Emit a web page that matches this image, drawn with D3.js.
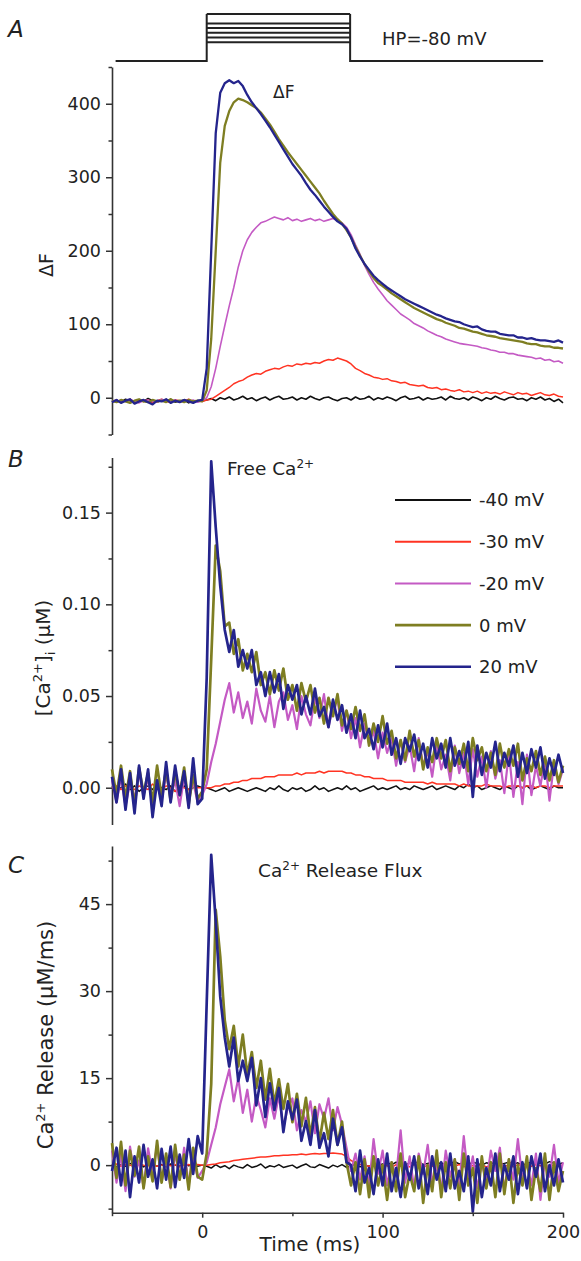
<!DOCTYPE html>
<html><head><meta charset="utf-8">
<script src="https://cdn.jsdelivr.net/npm/d3@7"></script>
<style>
body{margin:0;background:#fff}
svg{display:block}
text{font-family:"DejaVu Sans",Arial,sans-serif;fill:#222}
</style>
</head><body>
<svg id="chart" width="581" height="1261"></svg>
<script>
// ---------- data ----------
const time = [-50,-47.5,-45,-42.5,-40,-37.5,-35,-32.5,-30,-27.5,-25,-22.5,-20,-17.5,-15,-12.5,-10,-7.5,-5,-2.5,
0,2.5,5,7.5,10,12.5,15,17.5,20,22.5,25,27.5,30,32.5,35,37.5,40,42.5,45,47.5,
50,52.5,55,57.5,60,62.5,65,67.5,70,72.5,75,77.5,80,82.5,85,87.5,90,92.5,95,97.5,
100,102.5,105,107.5,110,112.5,115,117.5,120,122.5,125,127.5,130,132.5,135,137.5,140,142.5,145,147.5,
150,152.5,155,157.5,160,162.5,165,167.5,170,172.5,175,177.5,180,182.5,185,187.5,190,192.5,195,197.5,200];

const seriesLabels = ["-40 mV","-30 mV","-20 mV","0 mV","20 mV"];

// Panel A: ΔF
const dF_m40 = [-5,-3,-6,-2,-4,-7,-3,-5,-1,-4,-6,-3,-5,-2,-6,-4,-3,-7,-4,-5,
-4,
-3,-1,-4,0,-2,1,-3,-1,2,-2,
0,-4,-1,1,-3,0,2,-2,-1,1,
-3,0,-2,2,-1,-3,0,1,-2,-4,
-1,0,-3,1,-2,-1,2,-3,0,-2,
1,-1,-4,0,2,-2,-1,1,-3,0,
-2,-1,1,-3,2,-1,-2,0,-3,1,
-1,-4,0,-2,2,-1,-3,0,1,-2,
-1,-4,0,-2,1,-3,-1,-5,-2,-7];
const dF_m30 = [-4,-6,-3,-5,-2,-6,-4,-5,-3,-7,-4,-2,-5,-6,-3,-4,-5,-2,-6,-4,
-5,
-3,-2,2,6,10,14,19,22,24,28,
31,33,32,36,38,40,39,42,44,43,
46,45,47,46,48,47,50,52,51,54,
52,50,46,40,37,33,31,28,27,25,
26,23,22,20,21,18,17,16,17,14,
13,14,11,12,10,9,11,8,9,7,
9,6,8,6,7,5,8,6,4,7,
5,6,3,5,7,4,3,5,2,1];
const dF_m20 = [-5,-3,-6,-4,-2,-5,-7,-4,-3,-5,-6,-2,-4,-5,-3,-6,-4,-5,-3,-6,
-4,
0,15,40,70,98,125,150,178,200,215,
225,232,238,240,243,246,244,242,245,241,
243,240,242,244,241,243,240,242,244,241,
238,232,222,208,195,180,168,157,148,140,
132,126,120,114,110,106,101,98,95,91,
88,85,83,80,78,76,74,73,72,71,
70,68,67,65,64,62,62,60,60,58,
57,56,55,53,54,51,52,49,50,47];
const dF_0 = [-4,-6,-3,-5,-7,-4,-2,-5,-6,-3,-5,-4,-6,-2,-5,-4,-6,-3,-5,-4,
-5,
10,80,200,320,370,390,402,407,405,402,
398,394,388,380,372,362,352,343,334,326,
318,310,302,294,286,278,268,259,250,243,
237,228,218,205,193,182,172,163,156,152,
147,142,138,134,130,126,122,119,116,113,
110,107,105,102,100,98,95,94,92,90,
89,87,85,84,83,81,80,79,78,77,
76,74,73,73,71,70,70,68,68,67];
const dF_20 = [-6,-3,-7,-4,-2,-8,-5,-3,-6,-9,-4,-5,-2,-7,-4,-6,-3,-5,-7,-4,
-3,
40,200,360,415,428,432,428,431,424,412,
402,394,386,377,368,358,348,338,328,318,
310,302,292,283,276,268,260,253,246,240,
236,230,218,203,192,182,174,166,160,155,
150,146,142,138,134,131,128,125,122,119,
116,113,111,108,106,104,103,100,98,96,
97,93,91,90,90,87,86,85,85,82,
82,80,81,79,78,78,77,76,78,75];

// Panel B: free [Ca2+]i (µM)
const ca_m40 = [0.001,-0.001,0.000,0.002,-0.001,0.001,-0.002,0.000,0.001,-0.001,0.002,0.000,-0.001,0.001,-0.002,0.000,0.001,-0.001,0.000,0.001,
0.000,
0.000,-0.001,-0.002,-0.001,0.000,-0.002,-0.001,0.000,-0.001,-0.002,
-0.001,0.000,-0.001,-0.002,0.000,-0.001,0.001,-0.001,-0.002,0.000,
-0.001,0.000,-0.002,-0.001,0.001,-0.001,0.000,-0.002,-0.001,0.000,
-0.001,0.001,-0.001,0.000,-0.002,-0.001,0.000,0.001,-0.001,0.000,
-0.001,0.000,0.001,-0.001,0.000,-0.001,0.001,0.000,-0.001,0.000,
0.001,-0.001,0.000,0.001,0.000,-0.001,0.001,0.000,0.002,0.000,
0.001,-0.001,0.000,0.001,0.000,-0.001,0.001,0.000,-0.001,0.001,
0.000,0.001,-0.001,0.000,0.001,0.000,-0.001,0.001,0.000,0.000];
const ca_m30 = [0.000,0.001,-0.001,0.001,0.000,-0.001,0.001,0.000,-0.001,0.002,0.000,-0.001,0.001,0.000,-0.002,0.001,0.000,-0.001,0.001,0.000,
0.000,
0.000,0.000,0.001,0.001,0.002,0.002,0.003,0.003,0.004,0.004,
0.005,0.005,0.005,0.006,0.006,0.006,0.007,0.007,0.007,0.007,
0.008,0.007,0.008,0.008,0.008,0.009,0.008,0.009,0.009,0.009,
0.009,0.008,0.008,0.007,0.007,0.006,0.006,0.005,0.005,0.005,
0.004,0.004,0.004,0.004,0.003,0.003,0.003,0.003,0.003,0.002,
0.003,0.002,0.002,0.002,0.002,0.002,0.001,0.002,0.001,0.001,
0.001,0.001,0.002,0.001,0.001,0.001,0.000,0.001,0.001,0.001,
0.000,0.001,0.001,0.000,0.001,0.001,0.000,0.001,0.001,0.001];
const ca_m20 = [0.004,-0.008,0.006,-0.010,0.003,-0.006,0.008,-0.004,0.005,-0.009,0.002,-0.007,0.007,-0.005,0.004,-0.010,0.006,-0.006,0.003,-0.008,
-0.004,
0.002,0.014,0.024,0.036,0.048,0.057,0.041,0.052,0.038,0.047,
0.035,0.054,0.042,0.036,0.050,0.033,0.047,0.052,0.037,0.045,
0.032,0.050,0.040,0.034,0.049,0.038,0.051,0.033,0.044,0.048,
0.031,0.042,0.027,0.038,0.022,0.035,0.024,0.031,0.016,0.030,
0.019,0.027,0.012,0.026,0.014,0.023,0.009,0.027,0.012,0.020,
0.006,0.024,0.010,0.018,0.004,0.023,0.008,0.019,0.002,0.021,
0.006,0.017,0.000,0.020,0.005,0.015,-0.003,0.019,-0.005,0.014,
-0.009,0.018,-0.004,0.012,0.001,0.016,-0.007,0.013,0.002,0.010];
const ca_0 = [0.010,-0.004,0.012,-0.006,0.009,-0.010,0.011,-0.003,0.008,-0.008,0.012,-0.005,0.010,-0.007,0.009,-0.004,0.011,-0.009,0.007,-0.006,
-0.002,
0.010,0.070,0.132,0.118,0.088,0.090,0.073,0.081,0.064,0.073,
0.063,0.074,0.056,0.063,0.051,0.064,0.053,0.065,0.048,0.056,
0.042,0.057,0.047,0.056,0.041,0.049,0.035,0.049,0.039,0.051,
0.034,0.042,0.032,0.044,0.031,0.040,0.023,0.035,0.025,0.039,
0.024,0.031,0.016,0.026,0.015,0.031,0.017,0.026,0.010,0.022,
0.014,0.027,0.016,0.026,0.009,0.022,0.013,0.024,0.009,0.027,
0.015,0.022,0.009,0.019,0.007,0.024,0.011,0.021,0.012,0.024,
0.004,0.016,0.009,0.020,0.007,0.017,0.004,0.015,0.003,0.012];
const ca_20 = [0.006,-0.008,0.010,-0.012,0.008,-0.014,0.012,-0.006,0.010,-0.016,0.004,-0.010,0.014,-0.008,0.012,-0.004,0.009,-0.011,0.016,-0.009,
-0.006,
0.060,0.178,0.142,0.110,0.086,0.074,0.086,0.066,0.075,0.065,
0.075,0.056,0.063,0.050,0.063,0.052,0.062,0.043,0.056,0.048,
0.056,0.040,0.050,0.040,0.054,0.039,0.044,0.033,0.048,0.037,
0.045,0.030,0.040,0.027,0.042,0.027,0.032,0.021,0.034,0.022,
0.035,0.018,0.027,0.013,0.027,0.020,0.029,0.015,0.024,0.011,
0.027,0.016,0.024,0.011,0.027,0.012,0.020,0.011,0.025,-0.005,
0.023,0.007,0.019,0.011,0.025,0.009,0.019,0.012,0.023,0.006,
0.019,0.008,0.021,0.011,0.022,0.005,0.016,0.007,0.018,0.008];

// Panel C: Ca2+ release flux (µM/ms)
const rel_m40 = [0.2,-0.3,0.1,-0.2,0.3,-0.1,0.2,-0.3,0.0,0.2,-0.2,0.1,-0.3,0.2,0.0,-0.2,0.3,-0.1,0.1,-0.2,
0.0,
-0.2,-0.5,0.1,-0.4,-0.1,-0.6,0.0,-0.3,-0.5,0.1,
-0.4,-0.2,0.2,-0.5,-0.1,-0.3,0.1,-0.4,-0.2,0.0,
-0.5,-0.1,0.2,-0.3,-0.4,0.1,-0.2,-0.5,0.0,-0.3,
0.1,-0.4,-0.1,0.2,-0.3,0.0,-0.2,0.3,0.0,0.2,
0.4,0.1,0.5,0.2,0.0,0.4,0.3,0.6,0.1,0.3,
0.5,0.2,0.4,0.0,0.3,0.6,0.2,0.4,0.1,0.5,
0.3,0.0,0.4,0.2,0.6,0.1,0.3,0.5,0.2,0.4,
0.0,0.3,0.5,0.1,0.4,0.2,0.6,0.3,0.1,0.4];
const rel_m30 = [-0.1,0.2,-0.2,0.1,0.0,-0.3,0.2,0.0,-0.1,0.1,-0.2,0.0,0.2,-0.1,0.1,-0.3,0.0,0.1,-0.2,0.1,
0.0,
0.0,0.1,0.2,0.4,0.5,0.6,0.8,0.9,1.0,1.1,
1.2,1.3,1.4,1.4,1.5,1.6,1.6,1.7,1.7,1.8,
1.8,1.9,1.8,1.9,2.0,1.9,2.0,2.0,2.1,2.0,
1.9,1.5,0.8,0.3,0.1,0.0,-0.2,0.1,-0.3,0.0,
-0.1,-0.4,0.1,-0.2,0.0,-0.3,0.1,-0.1,-0.4,0.0,
-0.2,0.1,-0.3,-0.1,0.0,-0.2,0.1,-0.3,0.0,-0.1,
-0.2,0.1,-0.3,0.0,-0.1,0.1,-0.2,0.0,-0.3,0.1,
-0.1,0.0,-0.2,0.1,-0.1,0.0,-0.3,0.1,-0.1,0.0];
const rel_m20 = [2.5,-3.0,1.8,-4.5,3.2,-2.0,0.8,-3.8,2.9,-1.5,3.5,-2.8,1.2,-4.0,2.2,-2.5,3.0,-3.5,1.5,-2.2,
-1.0,
0.5,3.5,6.5,10.5,13.5,16.5,11.0,15.0,9.0,13.0,
7.5,12.0,9.5,6.5,11.5,8.0,12.0,6.5,10.0,11.5,
6.0,9.5,7.5,11.0,5.5,10.5,8.0,11.5,6.0,10.0,
7.0,3.0,-1.0,2.0,-2.5,1.5,-3.5,4.5,-1.5,2.5,
-3.5,0.5,-2.0,6.0,-3.0,1.5,-4.0,2.0,-1.5,3.5,
-3.0,0.0,-4.5,2.5,-2.0,1.0,-3.5,5.0,-2.5,1.5,
-4.0,0.5,-3.0,2.5,-1.0,3.0,-4.5,1.0,-2.5,4.5,
-2.5,0.5,-3.5,2.0,-6.0,1.0,-2.0,3.5,-3.0,0.5];
const rel_0 = [3.8,-2.2,4.0,-3.5,2.5,-1.8,3.2,-4.0,1.5,-2.8,4.2,-3.0,2.0,-3.8,3.5,-2.5,1.8,-4.2,3.0,-2.0,
-2.5,
2.0,14.0,44.0,36.0,25.0,20.0,24.0,17.0,22.5,15.5,
19.5,13.3,18.0,11.3,16.6,10.5,14.8,9.7,14.0,7.4,
12.3,6.7,11.6,5.0,10.0,4.0,9.0,4.5,9.5,3.5,
7.5,0.5,-3.5,0.5,-5.0,1.0,-5.5,1.5,-3.5,0.0,
-6.0,0.5,-4.5,2.0,-5.5,-1.5,-4.5,1.5,-6.5,0.0,
-4.5,2.5,-5.5,0.5,-4.0,1.0,-6.0,2.0,-3.5,-0.5,
-6.5,1.5,-4.0,0.5,-5.5,2.0,-5.0,1.0,-6.5,0.0,
-3.5,1.5,-6.0,-0.5,-4.5,2.0,-6.0,0.5,-4.5,-1.0];
const rel_20 = [-1.0,3.0,-3.5,2.5,-5.5,1.5,-3.0,3.5,-2.0,1.0,-4.0,2.8,-2.5,3.2,-3.8,1.8,-2.2,4.5,-1.5,5.0,
2.0,
28.0,53.5,42.0,29.0,22.0,17.0,22.0,14.5,18.0,14.5,
18.5,10.3,15.0,8.3,14.1,9.5,13.3,5.7,11.0,7.9,
11.3,4.2,7.6,3.5,9.5,3.0,5.5,1.5,8.0,3.5,
6.5,0.5,0.0,-4.5,2.5,-3.0,-0.5,-5.0,1.0,-3.5,
2.0,-4.5,-0.5,-5.5,0.5,-2.5,1.5,-4.0,0.0,-5.0,
1.5,-2.5,0.5,-4.5,2.0,-4.0,-1.0,-4.5,1.5,-8.0,
1.0,-5.5,-0.5,-3.5,2.0,-4.5,0.0,-2.5,1.5,-5.0,
0.5,-4.0,1.5,-2.0,2.0,-4.5,0.0,-3.5,1.0,-3.0];

// tick values
const ticksA = [0,100,200,300,400], minorA = [-50,50,150,250,350,450];
const ticksB = [0,0.05,0.10,0.15], minorB = [0.025,0.075,0.125,0.175];
const ticksC = [0,15,30,45], minorC = [-7.5,7.5,22.5,37.5,52.5];
const ticksX = [0,100,200], minorX = [-50,50,150];

// voltage protocol
const holdingPotential = -80;
const stepLevels = [-40,-30,-20,-10,0,20];
const protoStart = -48, pulseOn = 2.5, pulseOff = 82, protoEnd = 189;

// ---------- drawing ----------
const colors = ["#111111","#ff3322","#c45ac4","#7e7e22","#24248c"];
const svg = d3.select("#chart");
const x = d3.scaleLinear().domain([-50,200]).range([112,563]);

const panels = [
  {y:d3.scaleLinear().domain([-50,450]).range([434.5,67]), data:[dF_m40,dF_m30,dF_m20,dF_0,dF_20],
   major:ticksA, minor:minorA, fmt:d3.format("d"), widths:[1.6,1.5,1.6,2.3,2.3]},
  {y:d3.scaleLinear().domain([-0.02,0.18]).range([824.4,457.6]), data:[ca_m40,ca_m30,ca_m20,ca_0,ca_20],
   major:ticksB, minor:minorB, fmt:d3.format(".2f"), widths:[1.5,1.5,2.2,2.7,2.7]},
  {y:d3.scaleLinear().domain([-8.2,55]).range([1212.7,846.1]), data:[rel_m40,rel_m30,rel_m20,rel_0,rel_20],
   major:ticksC, minor:minorC, fmt:d3.format("d"), widths:[1.5,1.5,2.2,2.7,2.7]}
];

function styleAxis(g){
  g.select(".domain").attr("stroke","#333").attr("stroke-width",1.6);
  g.selectAll(".tick line").attr("stroke","#333").attr("stroke-width",1.5);
  g.selectAll(".tick text").attr("fill","#222").style("font-size","17.5px").style("font-family","'DejaVu Sans',Arial,sans-serif");
}

panels.forEach(p=>{
  const gA = svg.append("g").attr("transform","translate(112,0)");
  gA.call(d3.axisLeft(p.y).tickValues(p.major).tickFormat(p.fmt).tickSize(6).tickSizeOuter(0).tickPadding(5));
  styleAxis(gA);
  const gm = svg.append("g").attr("transform","translate(112,0)");
  gm.call(d3.axisLeft(p.y).tickValues(p.minor).tickFormat("").tickSize(3.5).tickSizeOuter(0));
  gm.select(".domain").remove();
  styleAxis(gm);
  p.data.forEach((s,k)=>{
    const ln = d3.line().x((d,i)=>x(time[i])).y(d=>p.y(d));
    svg.append("path").datum(s).attr("d",ln).attr("fill","none")
      .attr("stroke",colors[k]).attr("stroke-width",p.widths[k]).attr("stroke-linejoin","round");
  });
});

// x axis (panel C)
const gx = svg.append("g").attr("transform","translate(0,1212.7)");
gx.call(d3.axisBottom(x).tickValues(ticksX).tickFormat(d3.format("d")).tickSize(5).tickSizeOuter(0).tickPadding(8));
styleAxis(gx);
const gxm = svg.append("g").attr("transform","translate(0,1212.7)");
gxm.call(d3.axisBottom(x).tickValues(minorX).tickFormat("").tickSize(3.5).tickSizeOuter(0));
gxm.select(".domain").remove();
styleAxis(gxm);

// voltage protocol
const vs = d3.scaleLinear().domain([holdingPotential,20]).range([61,14]);
const proto = d3.path();
proto.moveTo(x(protoStart), vs(holdingPotential));
proto.lineTo(x(pulseOn), vs(holdingPotential));
proto.lineTo(x(pulseOn), vs(d3.max(stepLevels)));
proto.moveTo(x(pulseOff), vs(d3.max(stepLevels)));
proto.lineTo(x(pulseOff), vs(holdingPotential));
proto.lineTo(x(protoEnd), vs(holdingPotential));
svg.append("path").attr("d",proto.toString()).attr("fill","none").attr("stroke","#222").attr("stroke-width",2);
svg.selectAll(".step").data(stepLevels).join("line")
  .attr("x1",x(pulseOn)).attr("x2",x(pulseOff))
  .attr("y1",d=>vs(d)).attr("y2",d=>vs(d))
  .attr("stroke","#222").attr("stroke-width",2);
svg.append("text").attr("x",382).attr("y",45).style("font-size","18px").text("HP=-80 mV");

// panel letters
[["A",37],["B",467],["C",873]].forEach(([t,yy])=>{
  svg.append("text").attr("x",8).attr("y",yy).style("font-size","23px").style("font-style","italic").text(t);
});

// in-panel annotations
svg.append("text").attr("x",273).attr("y",98).style("font-size","17px").text("ΔF");
const fc = svg.append("text").attr("x",227).attr("y",475).style("font-size","18.5px");
fc.append("tspan").text("Free Ca");
fc.append("tspan").attr("dy",-7).style("font-size","12px").text("2+");
const rf = svg.append("text").attr("x",258).attr("y",877).style("font-size","18.5px");
rf.append("tspan").text("Ca");
rf.append("tspan").attr("dy",-7).style("font-size","12px").text("2+");
rf.append("tspan").attr("dy",7).text(" Release Flux");

// y titles
svg.append("text").attr("transform","translate(53,265) rotate(-90)").attr("text-anchor","middle")
  .style("font-size","19px").text("ΔF");
const t2 = svg.append("text").attr("transform","translate(50,658) rotate(-90)").attr("text-anchor","middle").style("font-size","20px");
t2.append("tspan").text("[Ca");
t2.append("tspan").attr("dy",-8).style("font-size","13px").text("2+");
t2.append("tspan").attr("dy",8).text("]");
t2.append("tspan").attr("dy",5).style("font-size","13px").text("i");
t2.append("tspan").attr("dy",-5).text(" (μM)");
const t3 = svg.append("text").attr("transform","translate(53,1035) rotate(-90)").attr("text-anchor","middle").style("font-size","21px");
t3.append("tspan").text("Ca");
t3.append("tspan").attr("dy",-8).style("font-size","13px").text("2+");
t3.append("tspan").attr("dy",8).text(" Release (μM/ms)");

svg.append("text").attr("x",310).attr("y",1251).attr("text-anchor","middle").style("font-size","20px").text("Time (ms)");

// legend
const lg = svg.append("g");
seriesLabels.forEach((lab,k)=>{
  const yy = 500 + k*41.7;
  lg.append("line").attr("x1",395).attr("x2",471).attr("y1",yy).attr("y2",yy)
    .attr("stroke",colors[k]).attr("stroke-width",k>2?2.6:2);
  lg.append("text").attr("x",479).attr("y",yy).attr("dy","0.36em").style("font-size","18px").text(lab);
});
</script>
</body></html>
